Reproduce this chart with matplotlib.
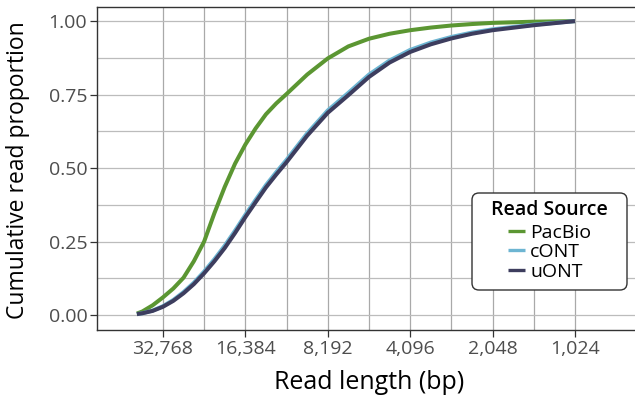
import matplotlib
matplotlib.use("Agg")
import matplotlib.pyplot as plt
from matplotlib.lines import Line2D
from matplotlib.patches import FancyBboxPatch

plt.rcParams['font.family'] = ['Open Sans', 'DejaVu Sans']

# read length in log2(bp)
log2_len = [15.316, 15.25, 15.125, 15.0, 14.875, 14.75, 14.625, 14.5, 14.375, 14.25,
            14.125, 14.0, 13.875, 13.75, 13.625, 13.5, 13.25, 13.0, 12.75, 12.5,
            12.25, 12.0, 11.75, 11.5, 11.25, 11.0, 10.5, 10.0]
pacbio = [0.005, 0.012, 0.033, 0.060, 0.090, 0.127, 0.183, 0.250, 0.347, 0.436,
          0.515, 0.580, 0.635, 0.683, 0.720, 0.752, 0.818, 0.873, 0.914, 0.940,
          0.957, 0.969, 0.978, 0.985, 0.990, 0.994, 0.998, 1.0]
cont = [0.003, 0.006, 0.015, 0.030, 0.051, 0.078, 0.110, 0.148, 0.190, 0.236,
        0.287, 0.341, 0.392, 0.442, 0.486, 0.528, 0.618, 0.696, 0.756, 0.818,
        0.866, 0.902, 0.927, 0.946, 0.961, 0.972, 0.988, 1.0]
uont = [0.003, 0.006, 0.014, 0.028, 0.048, 0.074, 0.105, 0.142, 0.183, 0.228,
        0.279, 0.333, 0.384, 0.434, 0.478, 0.520, 0.610, 0.688, 0.748, 0.810,
        0.859, 0.895, 0.921, 0.941, 0.957, 0.969, 0.986, 1.0]

series_names = ['PacBio', 'cONT', 'uONT']
series_colors = ['#5b9632', '#6db5d2', '#3d3d5e']

x_ticks = [32768, 16384, 8192, 4096, 2048, 1024]
x_ticklabels = ['32,768', '16,384', '8,192', '4,096', '2,048', '1,024']
y_ticks = [0.0, 0.25, 0.5, 0.75, 1.0]
y_ticklabels = ['0.00', '0.25', '0.50', '0.75', '1.00']

read_len = [2 ** v for v in log2_len]

fig = plt.figure(figsize=(6.35, 4.0), dpi=100)
ax = fig.add_axes([97 / 635, 70 / 400, 538 / 635, 323 / 400])

ax.set_xscale('log', base=2)
ax.set_xlim(2 ** 15.80, 2 ** 9.272)
ax.set_ylim(-0.051, 1.048)

# grid (major + minor between majors)
minor_x = [2 ** (v + 0.5) for v in [14, 13, 12, 11, 10]]
minor_y = [0.125, 0.375, 0.625, 0.875]
for xv in x_ticks + minor_x:
    ax.axvline(xv, color='#a9a9a9', lw=0.9, zorder=0)
for yv in y_ticks + minor_y:
    ax.axhline(yv, color='#bcbcbc', lw=0.9, zorder=0)

for vals, name, col in zip([pacbio, cont, uont], series_names, series_colors):
    ax.plot(read_len, vals, color=col, lw=2.9, solid_capstyle='butt',
            solid_joinstyle='round', zorder=3, label=name)

ax.set_xticks(x_ticks)
ax.set_xticklabels(x_ticklabels)
ax.xaxis.set_minor_locator(matplotlib.ticker.NullLocator())
ax.set_yticks(y_ticks)
ax.set_yticklabels(y_ticklabels)
ax.tick_params(axis='both', which='major', direction='out', length=5, width=0.9,
               color='#333333', labelcolor='#4d4d4d', labelsize=14, pad=2)

for s in ['left', 'bottom', 'top']:
    ax.spines[s].set_color('#333333')
    ax.spines[s].set_linewidth(1.0)
ax.spines['right'].set_visible(False)

fig.text(369 / 635, 11 / 400, 'Read length (bp)', fontsize=18, color='black',
         ha='center', va='baseline')
fig.text(18 / 635, 230 / 400, 'Cumulative read proportion', fontsize=16.5,
         color='black', ha='center', va='center', rotation=90)

# legend drawn in inch coordinates
tr = fig.dpi_scale_trans
box = FancyBboxPatch((4.72, 1.10), 1.55, 0.97,
                     boxstyle='round,pad=0,rounding_size=0.07',
                     transform=tr, facecolor='white', edgecolor='#333333',
                     lw=1.0, zorder=10)
fig.patches.append(box)
fig.text(5.495, 1.85, 'Read Source', transform=tr, fontsize=14,
         fontweight='semibold', ha='center', va='baseline', zorder=11)
entry_base = [1.62, 1.426, 1.232]
for name, col, yb in zip(series_names, series_colors, entry_base):
    fig.lines.append(Line2D([5.08, 5.25], [yb + 0.07, yb + 0.07], color=col,
                            lw=2.4, transform=tr, solid_capstyle='butt', zorder=11))
    fig.text(5.30, yb, name, transform=tr, fontsize=14, color='black',
             ha='left', va='baseline', zorder=11)

fig.savefig('out.png', dpi=100)
